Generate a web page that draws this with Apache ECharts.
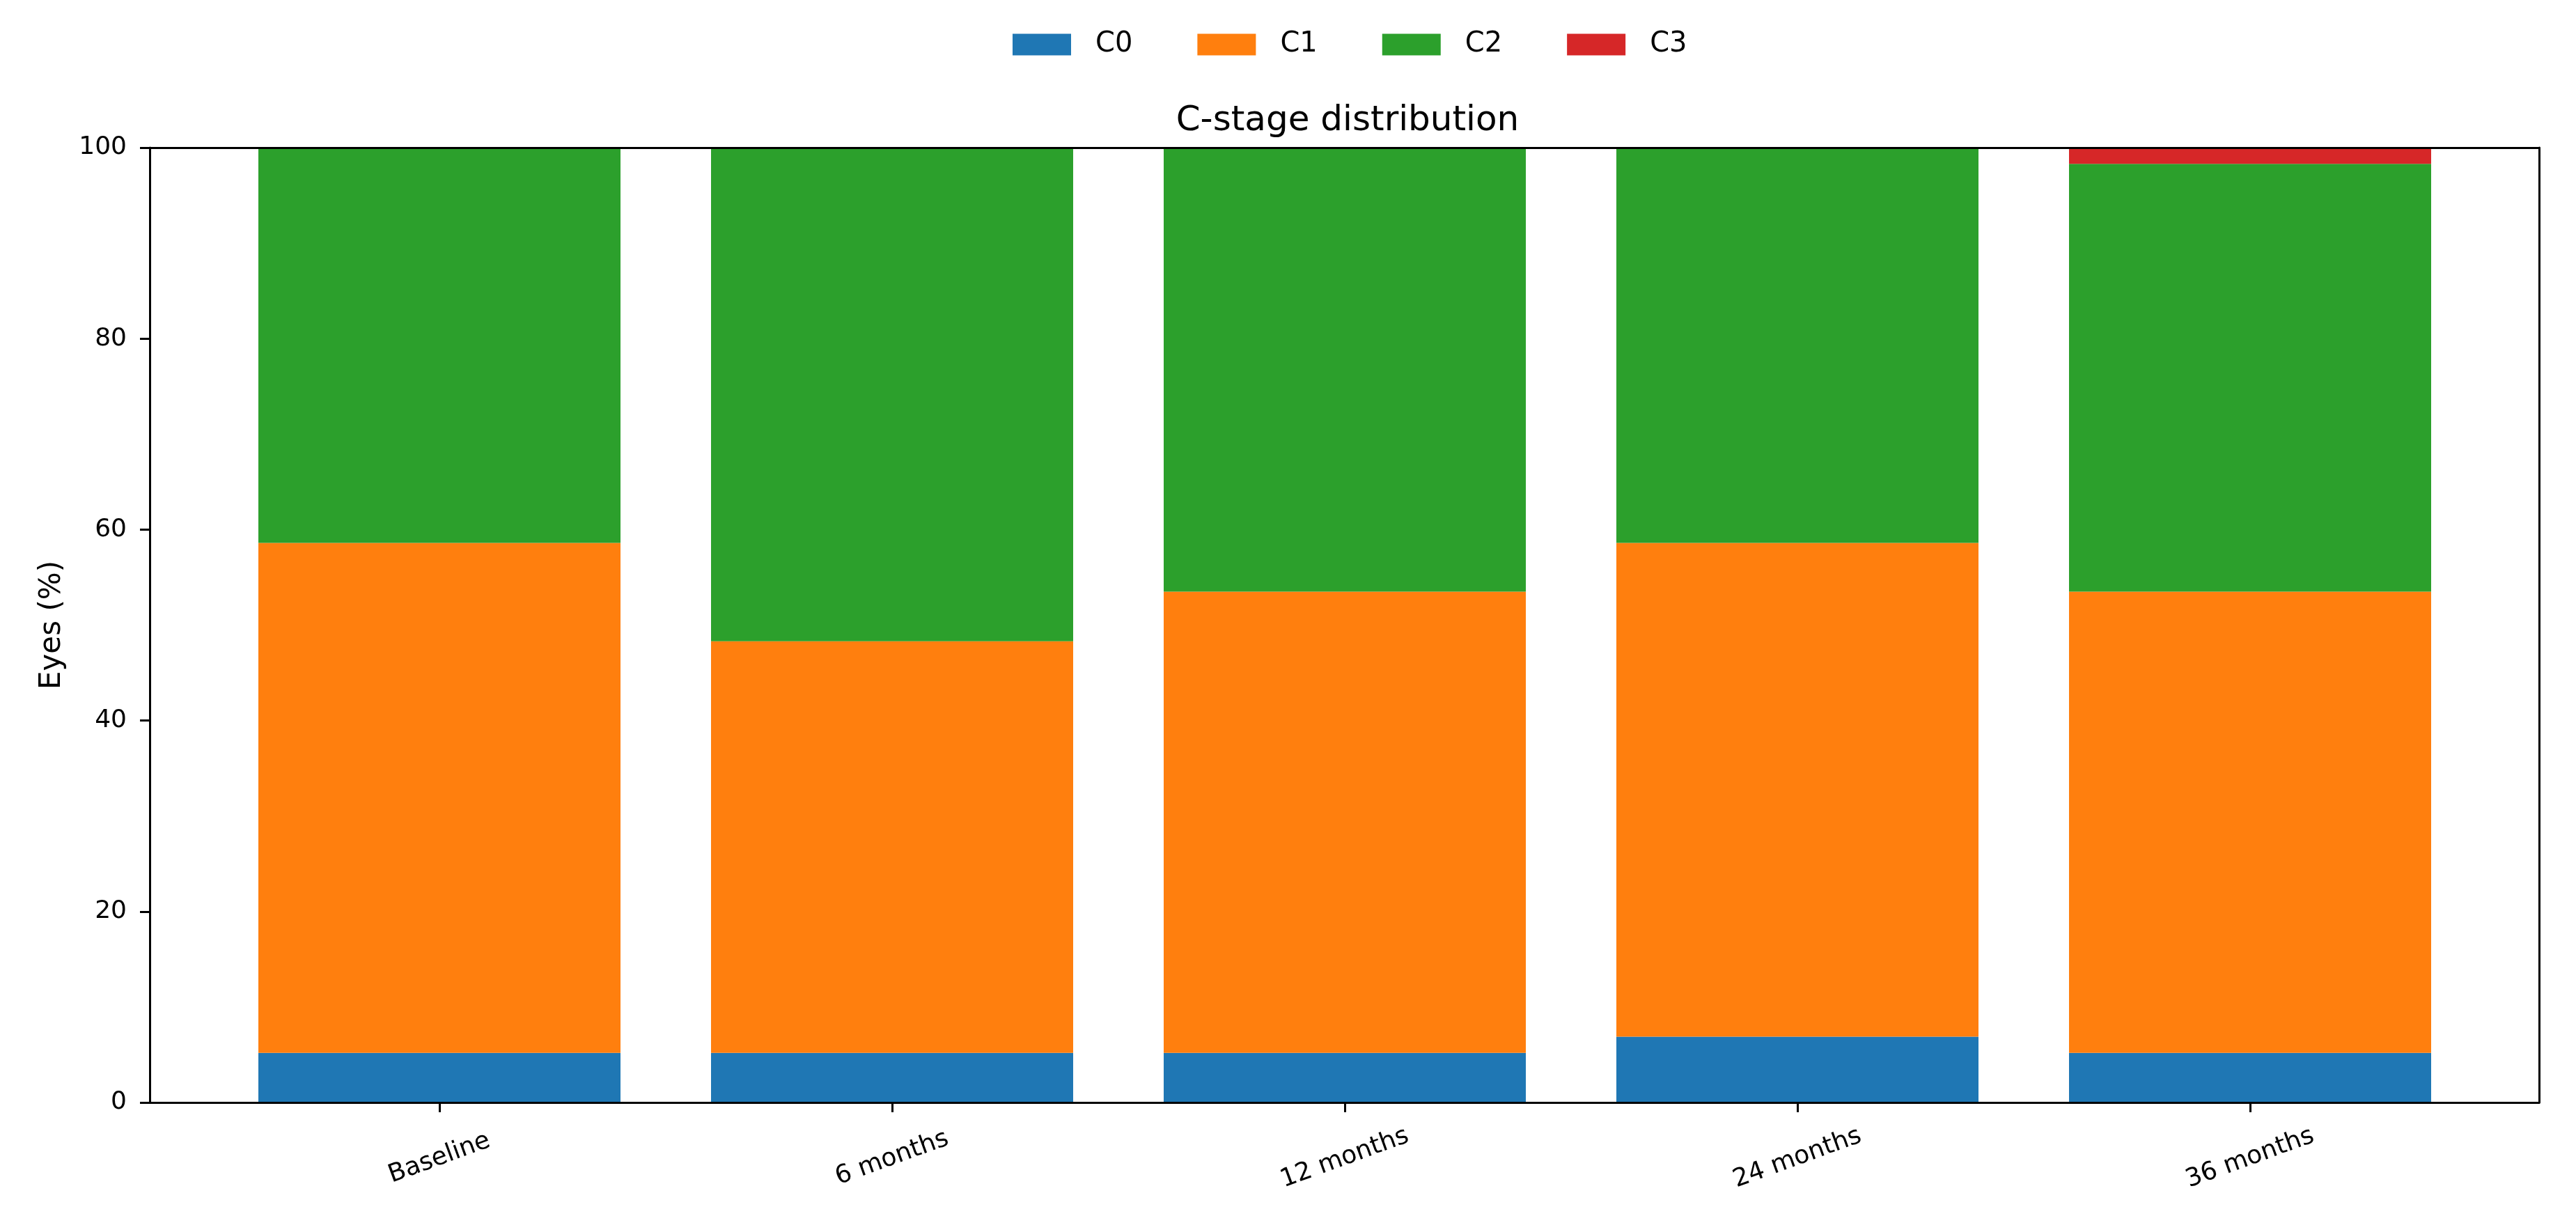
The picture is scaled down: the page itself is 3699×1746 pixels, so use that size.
<!DOCTYPE html>
<html>
<head>
<meta charset="utf-8">
<script src="https://cdn.jsdelivr.net/npm/echarts@6/dist/echarts.min.js"></script>
<style>
  html, body { margin: 0; padding: 0; background: #fff; }
  #chart { width: 3699px; height: 1746px; }
</style>
</head>
<body>
<div id="chart"></div>
<script>
// 时间点
const categories = ['Baseline', '6 months', '12 months', '24 months', '36 months'];
// 各期占比 (%)
const c0 = [5.2, 5.2, 5.2, 6.9, 5.2];
const c1 = [53.4, 43.1, 48.3, 51.7, 48.3];
const c2 = [41.4, 51.7, 46.5, 41.4, 44.8];
const c3 = [0, 0, 0, 0, 1.7];

const seriesList = [
  { name: 'C0', values: c0, color: '#1f77b4' },
  { name: 'C1', values: c1, color: '#ff7f0e' },
  { name: 'C2', values: c2, color: '#2ca02c' },
  { name: 'C3', values: c3, color: '#d62728' }
];

const font = 'DejaVu Sans';
const black = '#000';
const lineW = 3;

let chart = echarts.init(document.getElementById('chart'));

// grid 0: 外框 + y 轴刻度; grid 1: 柱子 (类目轴, 两侧留白与 matplotlib 一致)
let option = {
  animation: false,
  textStyle: { fontFamily: font, color: black },
  title: {
    text: 'C-stage distribution',
    left: 1930,
    textAlign: 'center',
    top: 144,
    textStyle: { fontFamily: font, fontSize: 50, fontWeight: 'normal', color: black }
  },
  legend: {
    top: 39,
    left: 1449,
    icon: 'rect',
    itemWidth: 84,
    itemHeight: 31,
    itemGap: 93,
    textStyle: { fontFamily: font, fontSize: 40, color: black, padding: [0, 0, 0, 30] },
    data: seriesList.map(s => s.name)
  },
  grid: [
    { left: 215, right: 53, top: 212, bottom: 163 },
    { left: 306, right: 143, top: 212, bottom: 163 }
  ],
  xAxis: [
    {
      gridIndex: 0,
      type: 'value',
      min: 0,
      max: 1,
      z: 10,
      splitLine: { show: false },
      axisLine: { show: true, onZero: false, lineStyle: { color: black, width: lineW } },
      axisTick: { show: false },
      axisLabel: { show: false }
    },
    {
      gridIndex: 0,
      type: 'value',
      position: 'top',
      min: 0,
      max: 1,
      z: 10,
      splitLine: { show: false },
      axisLine: { show: true, onZero: false, lineStyle: { color: black, width: lineW } },
      axisTick: { show: false },
      axisLabel: { show: false }
    },
    {
      gridIndex: 1,
      type: 'category',
      data: categories,
      z: 10,
      axisLine: { show: false, onZero: false },
      axisTick: { show: true, alignWithLabel: true, length: 14, lineStyle: { color: black, width: lineW } },
      axisLabel: {
        interval: 0,
        rotate: 20,
        align: 'center',
        verticalAlign: 'middle',
        margin: 80,
        fontSize: 36,
        fontFamily: font,
        color: black
      }
    }
  ],
  yAxis: [
    {
      gridIndex: 0,
      type: 'value',
      min: 0,
      max: 100,
      interval: 20,
      z: 10,
      name: 'Eyes (%)',
      nameLocation: 'middle',
      nameGap: 119,
      nameTextStyle: { fontFamily: font, fontSize: 42, color: black },
      splitLine: { show: false },
      axisLine: { show: true, onZero: false, lineStyle: { color: black, width: lineW } },
      axisTick: { show: true, length: 14, lineStyle: { color: black, width: lineW } },
      axisLabel: { margin: 33, fontSize: 36, fontFamily: font, color: black }
    },
    {
      gridIndex: 0,
      type: 'value',
      position: 'right',
      min: 0,
      max: 100,
      z: 10,
      splitLine: { show: false },
      axisLine: { show: true, onZero: false, lineStyle: { color: black, width: lineW } },
      axisTick: { show: false },
      axisLabel: { show: false }
    },
    {
      gridIndex: 1,
      type: 'value',
      min: 0,
      max: 100,
      show: false
    }
  ],
  series: seriesList.map(s => ({
    name: s.name,
    type: 'bar',
    stack: 'total',
    xAxisIndex: 2,
    yAxisIndex: 2,
    barCategoryGap: '20%',
    itemStyle: { color: s.color },
    data: s.values
  }))
};

chart.setOption(option);
</script>
</body>
</html>
